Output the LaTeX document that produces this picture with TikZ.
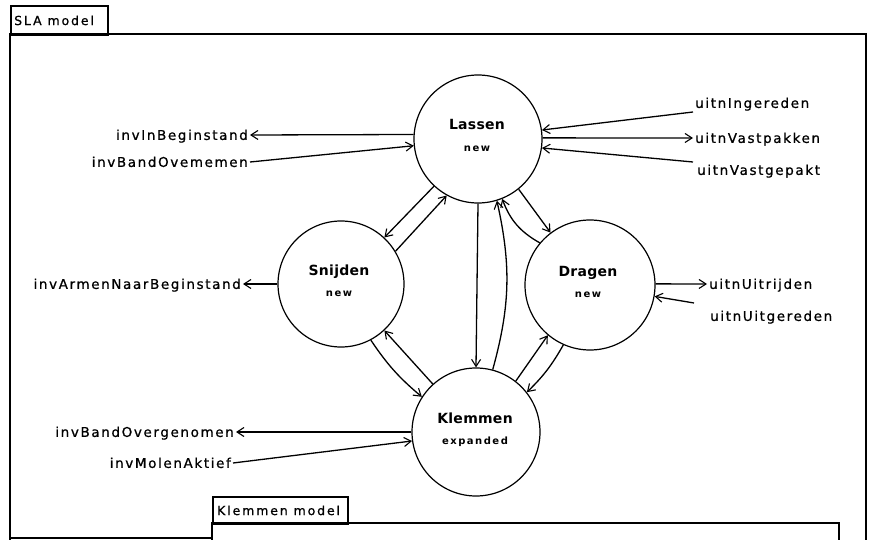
\documentclass[tikz,border=0pt]{standalone}
\usepackage{fontspec}
\setmainfont{DejaVu Sans}
\newfontfamily\lblfont[LetterSpace=12,FakeBold=0.8]{DejaVu Sans}
\newfontfamily\tabfont[LetterSpace=15,FakeBold=0.8]{DejaVu Sans}
\newfontfamily\ttlfont[LetterSpace=2]{DejaVu Sans}
\newfontfamily\subfont[LetterSpace=15]{DejaVu Sans}
\usetikzlibrary{arrows.meta}

\begin{document}
\begin{tikzpicture}[x=1pt,y=-1pt,
  frame/.style={line width=1.8pt},
  tabbox/.style={draw, line width=1.8pt, inner sep=0pt},
  tabtxt/.style={font={\tabfont\fontsize{12.5}{14}\selectfont}, inner sep=0pt, anchor=west},
  stcircle/.style={circle, draw, line width=1.2pt, inner sep=0pt, minimum size=#1},
  ttl/.style={font={\ttlfont\bfseries\fontsize{14}{16}\selectfont}, inner sep=0pt, anchor=base},
  sublbl/.style={font={\subfont\bfseries\fontsize{10}{12}\selectfont}, inner sep=0pt, anchor=base},
  lbl/.style={font={\lblfont\fontsize{13.5}{15}\selectfont}, inner sep=2pt, text height=9.8pt, text depth=0pt},
  flow/.style={line width=1.3pt, -{Straight Barb[length=7pt,width=9pt,line width=1.1pt]}}
]
\fill[white] (0,0) rectangle (878,540);
\useasboundingbox (0,0) rectangle (878,540);

% outer model frame with its tab
\draw[frame] (10,540) -- (10,34) -- (866,34) -- (866,540);
\draw[frame] (10,538) -- (212,538);
\node[tabbox, minimum width=97pt, minimum height=29pt, anchor=north west] (slatab) at (10,5) {};
\node[tabtxt] (slatxt) at ([xshift=4pt]slatab.west) {SLA model};

% nested model frame with its tab
\draw[frame] (212,540) -- (212,523) -- (839,523) -- (839,540);
\node[tabbox, minimum width=135pt, minimum height=27pt, anchor=north west] (kltab) at (212,496) {};
\node[tabtxt] (kltxt) at ([xshift=5pt]kltab.west) {Klemmen model};

% states
\node[stcircle=128pt] (L) at (478,139) {};
\node[stcircle=126pt] (S) at (341,284) {};
\node[stcircle=130pt] (D) at (590,285) {};
\node[stcircle=128pt] (K) at (476,432) {};

\node[ttl] (Lt) at (477,130) {Lassen};
\node[sublbl] (Ls) at (477,151.5) {new};
\node[ttl] (St) at (339,275) {Snijden};
\node[sublbl] (Ss) at (339,296) {new};
\node[ttl] (Dt) at (588,276) {Dragen};
\node[sublbl] (Ds) at (588,297) {new};
\node[ttl] (Kt) at (475,423) {Klemmen};
\node[sublbl] (Ks) at (475,444) {expanded};

% external signals
\node[lbl, anchor=east] (a1) at (250,135) {invInBeginstand};
\node[lbl, anchor=east] (a2) at (250,162) {invBandOvememen};
\node[lbl, anchor=east] (a3) at (243,284) {invArmenNaarBeginstand};
\node[lbl, anchor=east] (a4) at (236,432) {invBandOvergenomen};
\node[lbl, anchor=east] (a5) at (233,463) {invMolenAktief};
\node[lbl, anchor=west] (b1) at (693,103) {uitnIngereden};
\node[lbl, anchor=west] (b2) at (693,138) {uitnVastpakken};
\node[lbl, anchor=west] (b3) at (695,170) {uitnVastgepakt};
\node[lbl, anchor=west] (b4) at (707,284) {uitnUitrijden};
\node[lbl, anchor=west] (b5) at (708,316) {uitnUitgereden};

\draw[flow] (L.176) -- (a1.east);
\draw[flow] (a2.east) -- (L.186);
\draw[flow] ([shift={(0,9)}]b1.west) -- (L.8);
\draw[flow] (L.1) -- (b2.west);
\draw[flow] ([shift={(-2,-8)}]b3.west) -- (L.-8);
\draw[flow] (S.180) -- (a3.east);
\draw[flow] (D.1) -- (b4.west);
\draw[flow] ([shift={(-14,-13)}]b5.west) -- (D.-10);
\draw[flow] (K.180) -- (a4.east);
\draw[flow] (a5.east) -- (K.188);

% transitions between states
\draw[flow] (L.227) -- (S.47);
\draw[flow] (S.31) -- (L.241);
\draw[flow] (L.309) -- (D.127);
\draw[flow] (D.140) to[bend left=20] (L.292);
\draw[flow] (L.270) -- (K.90);
\draw[flow] (K.75) to[bend right=14] (L.287);
\draw[flow] (S.298) to[bend right=8] (K.147);
\draw[flow] (K.132) -- (S.313);
\draw[flow] (K.52) -- (D.230);
\draw[flow] (D.246) to[bend left=8] (K.38);
\end{tikzpicture}
\end{document}
